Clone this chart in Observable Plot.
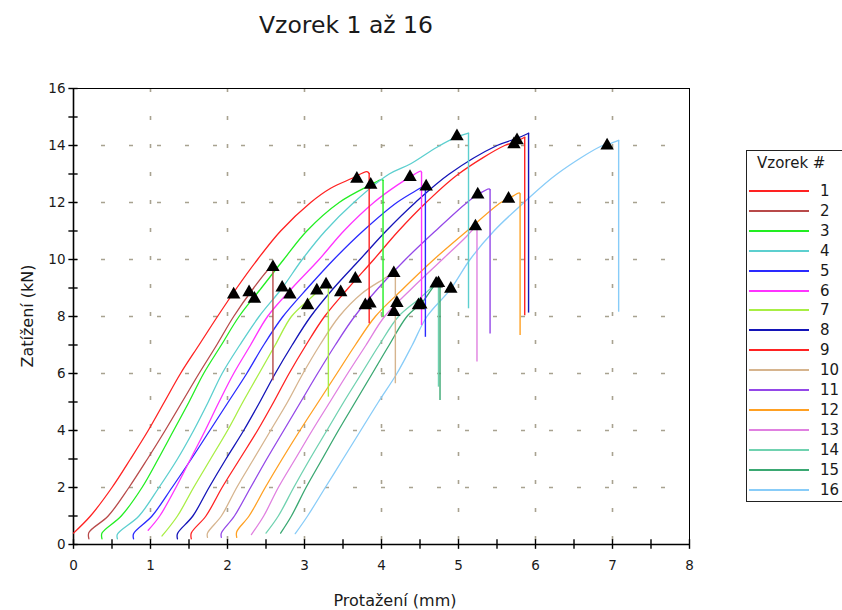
<!DOCTYPE html>
<html>
<head>
<meta charset="utf-8">
<script src="https://cdn.jsdelivr.net/npm/d3@7"></script>
<script src="https://cdn.jsdelivr.net/npm/@observablehq/plot@0.6"></script>
<style>
  body { margin: 0; background: #fff; }
  #wrap { position: relative; width: 842px; height: 610px; overflow: hidden; font-family: "DejaVu Sans", sans-serif; color: #1a1a1a; }
  #chart { position: absolute; left: 0; top: 0; }
  #title { position: absolute; left: 246px; top: 11px; width: 200px; text-align: center; font-size: 23.5px; white-space: nowrap; }
  #ylab { position: absolute; left: 27px; top: 316px; transform: translate(-50%, -50%) rotate(-90deg); font-size: 16px; white-space: nowrap; }
  #xlab { position: absolute; left: 395px; top: 600px; transform: translate(-50%, -50%); font-size: 16px; white-space: nowrap; }
  #legend { position: absolute; left: 746px; top: 150px; width: 130px; height: 350px; border: 1px solid #222; background: #fff; }
  #legend .lt { position: absolute; left: 10px; top: 3px; font-size: 15px; white-space: nowrap; }
  #legend .sw { position: absolute; left: 2px; width: 60px; height: 2px; }
  #legend .lb { position: absolute; left: 73px; font-size: 15px; line-height: 18px; white-space: nowrap; }
</style>
</head>
<body>
<div id="wrap">
  <div id="title"></div>
  <div id="ylab"></div>
  <div id="xlab"></div>
  <div id="legend"></div>
</div>
<script>
// ---- texts ----
const titleText = "Vzorek 1 až 16";
const xLabel = "Protažení (mm)";
const yLabel = "Zatížení (kN)";
const legendTitle = "Vzorek #";
const seriesNames = ["1","2","3","4","5","6","7","8","9","10","11","12","13","14","15","16"];
const seriesColors = ["#ff2222","#b84a4a","#22ee22","#5ccfcf","#2a2aff","#ff33ff","#a8ee44","#1414b8",
                      "#ff2222","#d6b48e","#9448e8","#ffa022","#e080e0","#70d2b0","#3aa872","#88ccf8"];

// ---- ticks ----
const xTicksMajor = [0,1,2,3,4,5,6,7,8];
const xTicksMinor = [0,0.5,1,1.5,2,2.5,3,3.5,4,4.5,5,5.5,6,6.5,7,7.5,8];
const yTicksMajor = [0,2,4,6,8,10,12,14,16];
const yTicksMinor = [0,1,2,3,4,5,6,7,8,9,10,11,12,13,14,15,16];

// ---- series: [Protažení (mm), Zatížení (kN)]; last point = end of the drop after failure ----
const s1 = [[0.00,0.40],[0.22,1.0],[0.50,2.0],[0.74,3.0],[0.97,4.0],[1.18,5.0],[1.39,6.0],[1.63,7.0],[1.87,8.0],[2.12,9.0],[2.39,10.0],[2.69,11.0],[3.08,12.0],[3.34,12.5],[3.62,12.85],[3.81,13.08],[3.84,13.02],[3.84,7.75]];
const s2 = [[0.20,0.20],[0.20,0.42],[0.45,1.0],[0.72,2.0],[0.96,3.0],[1.19,4.0],[1.41,5.0],[1.63,6.0],[1.86,7.0],[2.08,8.0],[2.34,9.0],[2.55,9.70],[2.59,9.76],[2.59,5.75]];
const s3 = [[0.37,0.20],[0.37,0.40],[0.62,1.0],[0.89,2.0],[1.10,3.0],[1.30,4.0],[1.50,5.0],[1.69,6.0],[1.92,7.0],[2.15,8.0],[2.44,9.0],[2.73,10.0],[3.03,11.0],[3.45,12.0],[3.86,12.62],[4.00,12.80],[4.02,12.78],[4.02,7.98]];
const s4 = [[0.57,0.20],[0.57,0.36],[0.85,1.0],[1.11,2.0],[1.35,3.0],[1.56,4.0],[1.75,5.0],[1.93,6.0],[2.16,7.0],[2.41,8.0],[2.71,9.0],[2.97,10.0],[3.27,11.0],[3.64,12.0],[4.10,13.0],[4.38,13.36],[4.72,13.94],[4.98,14.30],[5.13,14.43],[5.13,8.27]];
const s5 = [[0.78,0.20],[0.78,0.38],[1.02,1.0],[1.28,2.0],[1.53,3.0],[1.77,4.0],[2.01,5.0],[2.25,6.0],[2.47,7.0],[2.72,8.0],[3.04,9.0],[3.38,10.0],[3.76,11.0],[4.20,12.0],[4.50,12.5],[4.57,12.62],[4.57,7.27]];
const s6 = [[0.97,0.50],[1.12,1.0],[1.33,2.0],[1.52,3.0],[1.71,4.0],[1.89,5.0],[2.08,6.0],[2.30,7.0],[2.52,8.0],[2.84,9.0],[3.19,10.0],[3.51,11.0],[3.90,12.0],[4.20,12.6],[4.37,12.89],[4.51,13.10],[4.52,13.05],[4.52,7.68]];
const s7 = [[1.15,0.30],[1.35,1.0],[1.56,2.0],[1.78,3.0],[2.00,4.0],[2.20,5.0],[2.41,6.0],[2.62,7.0],[2.83,8.0],[3.06,8.6],[3.28,9.12],[3.31,9.13],[3.31,5.17]];
const s8 = [[1.35,0.20],[1.35,0.38],[1.55,1.0],[1.76,2.0],[1.98,3.0],[2.21,4.0],[2.42,5.0],[2.62,6.0],[2.84,7.0],[3.08,8.0],[3.38,9.0],[3.72,10.0],[4.06,11.0],[4.44,12.0],[4.88,13.0],[5.50,14.0],[5.76,14.25],[5.91,14.43],[5.91,8.12]];
const s9 = [[1.53,0.20],[1.53,0.40],[1.72,1.0],[1.93,2.0],[2.16,3.0],[2.39,4.0],[2.60,5.0],[2.80,6.0],[3.02,7.0],[3.26,8.0],[3.57,9.0],[3.90,10.0],[4.22,11.0],[4.58,12.0],[5.00,13.0],[5.60,14.0],[5.72,14.10],[5.86,14.29],[5.86,8.03]];
const s10 = [[1.74,0.25],[1.74,0.40],[1.92,1.0],[2.12,2.0],[2.34,3.0],[2.56,4.0],[2.78,5.0],[2.98,6.0],[3.20,7.0],[3.45,8.0],[3.74,8.8],[4.02,9.3],[4.16,9.52],[4.18,9.5],[4.18,5.64]];
const s11 = [[1.92,0.25],[1.92,0.40],[2.09,1.0],[2.30,2.0],[2.51,3.0],[2.73,4.0],[2.95,5.0],[3.17,6.0],[3.40,7.0],[3.65,8.0],[3.96,9.0],[4.31,10.0],[4.70,11.0],[5.11,12.0],[5.25,12.28],[5.40,12.48],[5.41,12.45],[5.41,7.39]];
const s12 = [[2.12,0.25],[2.12,0.45],[2.28,1.0],[2.49,2.0],[2.71,3.0],[2.94,4.0],[3.18,5.0],[3.42,6.0],[3.66,7.0],[3.92,8.0],[4.29,9.0],[4.68,10.0],[5.11,11.0],[5.55,12.0],[5.65,12.13],[5.79,12.34],[5.80,12.30],[5.80,7.33]];
const s13 = [[2.31,0.35],[2.47,1.0],[2.66,2.0],[2.88,3.0],[3.10,4.0],[3.33,5.0],[3.56,6.0],[3.80,7.0],[4.04,8.0],[4.40,9.0],[4.79,10.0],[5.10,10.8],[5.22,11.16],[5.24,11.25],[5.24,6.40]];
const s14 = [[2.50,0.40],[2.66,1.0],[2.86,2.0],[3.07,3.0],[3.29,4.0],[3.51,5.0],[3.74,6.0],[3.97,7.0],[4.22,8.0],[4.48,8.6],[4.72,9.17],[4.74,9.20],[4.74,5.52]];
const s15 = [[2.69,0.40],[2.83,1.0],[3.02,2.0],[3.23,3.0],[3.44,4.0],[3.66,5.0],[3.88,6.0],[4.10,7.0],[4.33,8.0],[4.53,8.5],[4.71,9.15],[4.76,9.20],[4.76,5.05]];
const s16 = [[2.88,0.38],[3.04,1.0],[3.27,2.0],[3.50,3.0],[3.73,4.0],[3.96,5.0],[4.20,6.0],[4.40,7.0],[4.59,8.0],[4.90,8.97],[5.15,10.0],[5.46,11.0],[5.85,12.0],[6.28,13.0],[6.87,14.0],[6.95,14.05],[7.08,14.18],[7.08,8.15]];
const series = [s1,s2,s3,s4,s5,s6,s7,s8,s9,s10,s11,s12,s13,s14,s15,s16];

// ---- markers (triangles) ----
const yieldMarks = [[2.08,8.77],[2.28,8.85],[2.35,8.62],[2.71,9.01],[2.81,8.77],[3.04,8.39],[3.16,8.91],[3.47,8.85],
                    [3.66,9.32],[3.79,8.39],[3.85,8.45],[4.20,8.47],[4.16,8.15],[4.48,8.39],[4.51,8.42],[4.90,8.97]];
const peakMarks = [[3.68,12.83],[2.59,9.73],[3.86,12.62],[4.98,14.32],[4.58,12.56],[4.37,12.89],[3.28,9.12],[5.76,14.18],
                   [5.72,14.04],[4.16,9.52],[5.25,12.28],[5.65,12.13],[5.22,11.16],[4.74,9.17],[4.71,9.15],[6.93,14.00]];

// ---- build tables ----
const rising = [];
const drops = [];
series.forEach((pts, i) => {
  const n = pts.length;
  pts.slice(0, n - 1).forEach(([x, y]) => rising.push({id: i, x, y, c: seriesColors[i]}));
  drops.push({x: pts[n - 1][0], y1: pts[n - 2][1], y2: pts[n - 1][1], c: seriesColors[i]});
});
const marks = [...yieldMarks, ...peakMarks].map(([x, y]) => ({x, y}));

const gridColor = "#a8a290";
const chart = Plot.plot({
  width: 842, height: 610,
  marginLeft: 73, marginRight: 153, marginTop: 88, marginBottom: 66,
  x: {domain: [0, 8]},
  y: {domain: [0, 16]},
  color: {type: "identity"},
  style: {fontFamily: "DejaVu Sans, sans-serif", fontSize: "13.5px", color: "#1a1a1a", background: "transparent", overflow: "visible"},
  marks: [
    Plot.gridX(xTicksMajor.slice(1, -1), {stroke: gridColor, strokeOpacity: 1, strokeWidth: 1.6, strokeDasharray: "4,24"}),
    Plot.gridY(yTicksMajor.slice(1, -1), {stroke: gridColor, strokeOpacity: 1, strokeWidth: 1.6, strokeDasharray: "4,24"}),
    Plot.frame({stroke: "#000", strokeWidth: 1}),
    Plot.ruleX([0], {stroke: "#000", strokeWidth: 1.6}),
    Plot.ruleY([0], {stroke: "#000", strokeWidth: 1.6}),
    Plot.ruleX(xTicksMinor, {x: d => d, y1: -0.17, y2: 0.17, stroke: "#000", strokeWidth: 1.4}),
    Plot.ruleY(yTicksMinor, {y: d => d, x1: -0.06, x2: 0.06, stroke: "#000", strokeWidth: 1.4}),
    Plot.axisX(xTicksMajor, {tickSize: 0, tickPadding: 16, label: null}),
    Plot.axisY(yTicksMajor, {tickSize: 0, tickPadding: 8, label: null}),
    Plot.line(rising, {x: "x", y: "y", z: "id", stroke: "c", strokeWidth: 1.3, curve: "catmull-rom"}),
    Plot.ruleX(drops, {x: "x", y1: "y1", y2: "y2", stroke: "c", strokeWidth: 1.4}),
    Plot.dot(marks, {x: "x", y: "y", symbol: "triangle", r: 5, fill: "#000", stroke: "none"})
  ]
});
chart.id = "chart";
document.getElementById("wrap").prepend(chart);

document.getElementById("title").textContent = titleText;
document.getElementById("xlab").textContent = xLabel;
document.getElementById("ylab").textContent = yLabel;

const lg = document.getElementById("legend");
const t = document.createElement("div");
t.className = "lt"; t.textContent = legendTitle; lg.appendChild(t);
seriesNames.forEach((name, i) => {
  const cy = 40 + i * 19.9;
  const sw = document.createElement("div");
  sw.className = "sw"; sw.style.top = (cy - 1) + "px"; sw.style.background = seriesColors[i];
  lg.appendChild(sw);
  const lb = document.createElement("div");
  lb.className = "lb"; lb.style.top = (cy - 9) + "px"; lb.textContent = name;
  lg.appendChild(lb);
});
</script>
</body>
</html>
